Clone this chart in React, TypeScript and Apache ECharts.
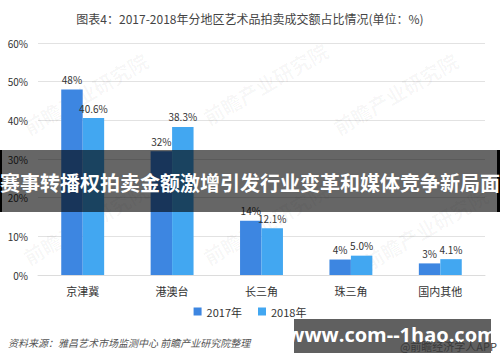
import React, { useEffect, useRef } from "react";
import * as echarts from "echarts";

const categories = ["京津冀", "港澳台", "长三角", "珠三角", "国内其他"];
const values2017 = [48, 32, 14, 4, 3];
const values2018 = [40.6, 38.3, 12.1, 5.0, 4.1];
const seriesNames = ["2017年", "2018年"];
const yTicks = [0, 10, 20, 30, 40, 50, 60];

const titleText = "图表4：2017-2018年分地区艺术品拍卖成交额占比情况(单位：%)";
const bannerText = "赛事转播权拍卖金额激增引发行业变革和媒体竞争新局面";
const sourceText = "资料来源：雅昌艺术市场监测中心 前瞻产业研究院整理";
const siteText = "www.com--1hao.com";
const appText = "@前瞻经济学人APP";
const watermarkText = "前瞻产业研究院";

const FONT = "'Noto Sans CJK SC', 'Noto Sans', sans-serif";

export default function App() {
  const ref = useRef<HTMLDivElement>(null);
  useEffect(() => {
    if (!ref.current) return;
    const chart = echarts.init(ref.current, null, { renderer: "svg" });
    const wm = (x: number, y: number) => ({
      type: "text",
      x,
      y,
      rotation: Math.PI / 6,
      z: 1,
      silent: true,
      style: {
        text: watermarkText,
        fill: "rgba(0,0,0,0.035)",
        font: `bold 20px ${FONT}`,
      },
    });
    chart.setOption({
      animation: false,
      backgroundColor: "#ffffff",
      textStyle: { fontFamily: FONT },
      title: {
        text: titleText,
        left: "center",
        top: 7,
        textStyle: { fontSize: 12, fontWeight: "normal", color: "#444", fontFamily: FONT },
      },
      legend: {
        data: seriesNames,
        bottom: 40,
        left: "center",
        itemWidth: 8,
        itemHeight: 8,
        itemGap: 16,
        icon: "rect",
        textStyle: { fontSize: 11, color: "#333", fontFamily: FONT },
      },
      grid: { left: 38, right: 15, top: 43, bottom: 87 },
      xAxis: {
        type: "category",
        data: categories,
        axisLine: { lineStyle: { color: "#dcdcdc" } },
        axisTick: { show: false },
        axisLabel: { fontSize: 11, color: "#333", margin: 10, fontFamily: FONT },
      },
      yAxis: {
        type: "value",
        min: yTicks[0],
        max: yTicks[yTicks.length - 1],
        interval: 10,
        axisLine: { show: false },
        axisTick: { show: false },
        splitLine: { lineStyle: { color: "#e2e2e2" } },
        axisLabel: { formatter: "{value}%", fontSize: 10, color: "#333", margin: 10, fontFamily: FONT },
      },
      series: [
        {
          name: seriesNames[0],
          type: "bar",
          data: values2017,
          barGap: "0%",
          barCategoryGap: "52%",
          itemStyle: { color: "#3d86e1" },
          label: {
            show: true,
            position: "top",
            fontSize: 10,
            color: "#333",
            formatter: (p: any) => `${p.value}%`,
          },
        },
        {
          name: seriesNames[1],
          type: "bar",
          data: values2018,
          itemStyle: { color: "#42a7f1" },
          label: {
            show: true,
            position: "top",
            fontSize: 10,
            color: "#333",
            formatter: (p: any) => `${Number(p.value).toFixed(1)}%`,
          },
        },
      ],
      graphic: [
        wm(20, 120),
        wm(200, 110),
        wm(330, 120),
        wm(20, 250),
        wm(200, 250),
        wm(360, 255),
        {
          type: "text",
          left: 8,
          top: 337,
          z: 10,
          style: {
            text: sourceText,
            fill: "#555",
            font: `italic 10px ${FONT}`,
          },
        },
        {
          type: "rect",
          shape: { x: 0, y: 150, width: 500, height: 62 },
          z: 100,
          style: { fill: "rgba(0,0,0,0.6)" },
        },
        {
          type: "rect",
          shape: { x: 0, y: 150, width: 2, height: 62 },
          z: 101,
          style: { fill: "#000" },
        },
        {
          type: "rect",
          shape: { x: 497, y: 150, width: 3, height: 62 },
          z: 101,
          style: { fill: "#000" },
        },
        {
          type: "text",
          x: 250,
          y: 182,
          z: 102,
          style: {
            text: bannerText,
            fill: "#ffffff",
            font: `bold 20px ${FONT}`,
            align: "center",
            verticalAlign: "middle",
          },
        },
        {
          type: "rect",
          shape: { x: 294, y: 319, width: 197, height: 34 },
          z: 100,
          style: { fill: "#606060" },
        },
        {
          type: "text",
          x: 392,
          y: 334,
          z: 102,
          style: {
            text: siteText,
            fill: "#ffffff",
            font: `bold 20px 'Open Sans', ${FONT}`,
            align: "center",
            verticalAlign: "middle",
          },
        },
        {
          type: "text",
          x: 497,
          y: 346,
          z: 103,
          style: {
            text: appText,
            fill: "#3a3a3a",
            font: `11px ${FONT}`,
            align: "right",
            verticalAlign: "middle",
          },
        },
      ],
    });
    return () => chart.dispose();
  }, []);
  return (
    <div
      ref={ref}
      style={{ position: "absolute", left: 0, top: 0, width: 500, height: 362 }}
    />
  );
}
